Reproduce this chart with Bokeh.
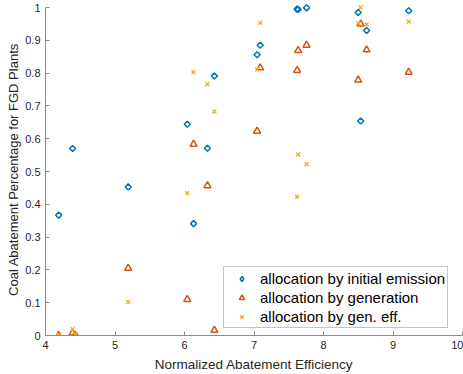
import math
from bokeh.plotting import figure
from bokeh.models import (FixedTicker, NumeralTickFormatter, Legend, LegendItem, Range1d,
                          ColumnDataSource)
from bokeh.embed import file_html
from bokeh.resources import INLINE

plant_eff = [4.19, 4.39, 4.43, 5.19, 6.04, 6.13, 6.33, 6.43, 7.045, 7.09,
             7.62, 7.635, 7.756, 8.50, 8.535, 8.62, 9.226]
by_initial_emission = [0.367, 0.570, 0.0, 0.453, 0.644, 0.341, 0.571, 0.791, 0.856, 0.885,
                       0.995, 0.994, 0.999, 0.985, 0.654, 0.930, 0.990]
by_generation = [0.0, 0.008, 0.0, 0.205, 0.110, 0.583, 0.457, 0.016, 0.623, 0.816,
                 0.808, 0.869, 0.885, 0.779, 0.950, 0.871, 0.803]
by_gen_eff = [0.0, 0.019, 0.004, 0.102, 0.434, 0.803, 0.766, 0.683, 0.811, 0.953,
              0.423, 0.552, 0.522, 0.952, 1.0, 0.948, 0.957]

x_ticks = [4, 5, 6, 7, 8, 9, 10]
y_ticks = [0, 0.1, 0.2, 0.3, 0.4, 0.5, 0.6, 0.7, 0.8, 0.9, 1]
series_names = ["allocation by initial emission", "allocation by generation", "allocation by gen. eff."]

FONT = "Liberation Sans"
TXT = "#262626"
AX = "#8c8c8c"
BLUE, ORANGE, YELLOW = "#0072BD", "#D95319", "#EDB120"

src = ColumnDataSource(dict(x=plant_eff, emis=by_initial_emission,
                            gen=by_generation, geneff=by_gen_eff))

p = figure(width=463, height=374, output_backend="svg", toolbar_location=None,
           x_range=Range1d(4, 10), y_range=Range1d(0, 1.0122),
           min_border_left=45, min_border_right=1, min_border_top=3, min_border_bottom=38)
p.outline_line_color = None
p.xgrid.visible = False
p.ygrid.visible = False
p.background_fill_color = "white"
p.border_fill_color = "white"

r1 = p.scatter("x", "emis", source=src, marker="square", size=4.3, angle=math.pi / 4,
               fill_color=None, line_color=BLUE, line_width=1.5)
r2 = p.scatter("x", "gen", source=src, marker="triangle", size=7, fill_color=None,
               line_color=ORANGE, line_width=1.5)
r3 = p.scatter("x", "geneff", source=src, marker="x", size=5.5, fill_color=None,
               line_color=YELLOW, line_width=1.4)
# legend swatch only (diamond shape); renderer hidden in the plot area
r1_leg = p.scatter("x", "emis", source=src, marker="diamond", size=6, fill_color=None,
                   line_color=BLUE, line_width=1.5, visible=False)

for ax, ticks, fmt in ((p.xaxis[0], x_ticks, "0"), (p.yaxis[0], y_ticks, "0.[0]")):
    ax.ticker = FixedTicker(ticks=ticks)
    ax.formatter = NumeralTickFormatter(format=fmt)
    ax.axis_line_color = AX
    ax.major_tick_line_color = AX
    ax.major_tick_in = 4
    ax.major_tick_out = 0
    ax.minor_tick_line_color = None
    ax.major_label_text_font = FONT
    ax.major_label_text_font_size = "11px"
    ax.major_label_text_color = TXT
    ax.major_label_standoff = 5
    ax.axis_label_text_font = FONT
    ax.axis_label_text_font_style = "normal"
    ax.axis_label_text_color = TXT

p.yaxis.bounds = (0, 1)
p.xaxis.axis_label = "Normalized Abatement Efficiency"
p.yaxis.axis_label = "Coal Abatement Percentage for FGD Plants"
p.xaxis.axis_label_text_font_size = "13.5px"
p.yaxis.axis_label_text_font_size = "13px"
p.xaxis.axis_label_standoff = 5
p.yaxis.axis_label_standoff = 1

legend = Legend(items=[LegendItem(label=series_names[0], renderers=[r1_leg]),
                       LegendItem(label=series_names[1], renderers=[r2]),
                       LegendItem(label=series_names[2], renderers=[r3])],
                location=(178, 7), padding=2, spacing=1, margin=0,
                glyph_width=31, glyph_height=13, label_height=18, label_standoff=3,
                label_text_font=FONT, label_text_font_size="15px", label_text_color="#000000",
                border_line_color=AX, border_line_width=1, background_fill_color="white",
                background_fill_alpha=1.0, inactive_fill_alpha=0.0)
p.add_layout(legend, "center")

open("out.html", "w").write(file_html(p, INLINE))
